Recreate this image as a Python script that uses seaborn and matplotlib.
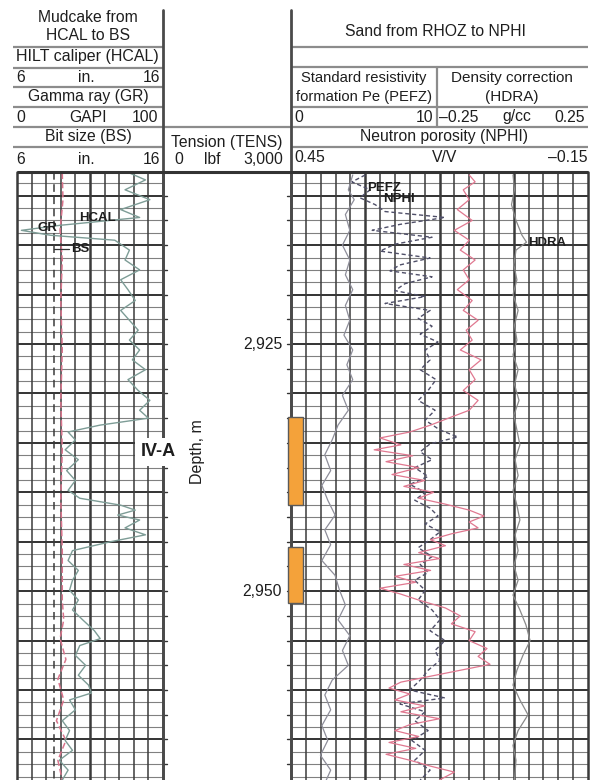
import numpy as np
import matplotlib
matplotlib.use("Agg")
import matplotlib.pyplot as plt
import matplotlib.transforms as mtransforms
from matplotlib.patches import Rectangle
import seaborn as sns

# ---------------- data ----------------
DEPTH_TOP, DEPTH_BOTTOM = 2907.6, 2969.1   # m

# Track 1: gamma ray (GAPI), caliper and bit size (in.)
gr_depth = [2907.7, 2908.4, 2909.4, 2910.4, 2911.4, 2912.2, 2913.0, 2913.5, 2914.0, 2914.5,
            2915.5, 2916.5, 2917.5, 2918.5, 2919.5, 2920.6, 2921.6, 2922.6, 2923.6, 2924.6,
            2925.6, 2926.6, 2927.6, 2928.6, 2929.7, 2930.7, 2931.7, 2932.5, 2933.2, 2933.9,
            2934.7, 2935.7, 2936.7, 2937.8, 2938.8, 2939.8, 2940.6, 2941.3, 2941.8, 2942.3,
            2942.8, 2943.6, 2944.3, 2945.0, 2945.9, 2946.9, 2947.9, 2948.9, 2949.9, 2950.9,
            2951.9, 2952.9, 2954.0, 2954.8, 2955.5, 2956.5, 2957.5, 2958.5, 2959.5, 2960.3,
            2961.0, 2962.0, 2963.1, 2964.1, 2965.1, 2966.1, 2967.1, 2968.1, 2969.1]
gr_api = [77, 88, 74, 91, 71, 84, 29, 3, 23, 67,
          77, 74, 84, 71, 76, 81, 71, 77, 83, 77,
          84, 79, 88, 76, 83, 91, 84, 90, 57, 35,
          40, 33, 42, 34, 40, 35, 43, 71, 81, 69,
          84, 74, 88, 64, 38, 35, 42, 38, 36, 42,
          38, 45, 53, 57, 43, 40, 47, 42, 49, 51,
          36, 40, 31, 36, 33, 38, 29, 35, 31]

hcal_depth = [2907.7, 2910.4, 2913.5, 2916.5, 2920.6, 2925.6, 2930.7, 2935.7, 2940.6, 2945.9,
              2950.9, 2952.9, 2954.8, 2956.9, 2958.9, 2961.0, 2963.1, 2965.1, 2967.1, 2969.1]
hcal_in = [9.1, 9.15, 8.95, 9.1, 9.0, 9.1, 9.0, 9.1, 9.0, 9.1,
           9.1, 9.2, 8.95, 9.35, 8.8, 9.2, 8.7, 9.35, 8.8, 9.1]
bit_size_in = 8.5

# Tracks 2-3: bulk density, Pe, neutron porosity, density correction
rhoz_depth = [2907.9, 2908.6, 2909.4, 2910.4, 2911.4, 2912.5, 2913.5, 2914.5, 2915.5, 2916.5,
              2917.5, 2918.5, 2919.5, 2920.6, 2921.6, 2922.6, 2923.6, 2924.6, 2925.6, 2926.6,
              2927.6, 2928.6, 2929.7, 2930.7, 2931.7, 2932.5, 2933.2, 2933.9, 2934.5, 2935.2,
              2935.7, 2936.3, 2936.9, 2937.5, 2938.2, 2938.8, 2939.4, 2940.0, 2940.6, 2941.2,
              2941.8, 2942.4, 2943.0, 2943.6, 2944.2, 2944.8, 2945.4, 2946.1, 2946.7, 2947.3,
              2947.9, 2948.5, 2949.1, 2949.7, 2950.3, 2950.9, 2951.7, 2952.5, 2953.3, 2954.1,
              2955.0, 2955.8, 2956.6, 2957.4, 2958.0, 2958.6, 2959.2, 2959.8, 2960.4, 2961.0,
              2961.6, 2962.2, 2962.9, 2963.5, 2964.1, 2964.7, 2965.3, 2965.9, 2966.5, 2967.1,
              2967.7, 2968.3, 2969.1]
rhoz_gcc = [2.55, 2.57, 2.53, 2.55, 2.51, 2.56, 2.50, 2.55, 2.52, 2.57,
            2.53, 2.55, 2.51, 2.56, 2.53, 2.58, 2.54, 2.56, 2.52, 2.59,
            2.55, 2.57, 2.53, 2.58, 2.55, 2.48, 2.42, 2.35, 2.25, 2.32,
            2.23, 2.36, 2.27, 2.38, 2.29, 2.40, 2.33, 2.43, 2.38, 2.47,
            2.55, 2.60, 2.55, 2.58, 2.49, 2.42, 2.47, 2.38, 2.45, 2.33,
            2.42, 2.30, 2.37, 2.25, 2.32, 2.38, 2.47, 2.52, 2.49, 2.57,
            2.55, 2.61, 2.58, 2.62, 2.52, 2.42, 2.32, 2.28, 2.35, 2.30,
            2.40, 2.32, 2.45, 2.35, 2.30, 2.38, 2.28, 2.37, 2.27, 2.35,
            2.42, 2.50, 2.45]

pefz_depth = [2907.9, 2909.4, 2910.4, 2911.9, 2913.5, 2915.0, 2916.5, 2918.0, 2919.5, 2921.1,
              2922.6, 2924.1, 2925.6, 2927.1, 2928.6, 2930.2, 2931.7, 2933.2, 2934.7, 2936.2,
              2937.8, 2939.3, 2940.8, 2942.3, 2943.8, 2945.3, 2946.9, 2948.4, 2949.9, 2951.4,
              2952.9, 2954.5, 2956.0, 2957.5, 2959.0, 2960.5, 2962.0, 2963.6, 2965.1, 2966.6,
              2968.1, 2969.1]
pefz = [4.2, 3.9, 4.3, 3.7, 4.0, 3.5, 4.0, 3.7, 4.2, 3.7,
        4.0, 3.6, 4.2, 3.8, 4.2, 3.5, 3.9, 3.2, 2.8, 2.3,
        2.7, 2.1, 2.5, 3.0, 2.3, 2.7, 2.1, 3.0, 3.3, 3.7,
        3.2, 4.0, 3.5, 3.9, 2.8, 2.3, 2.7, 2.1, 2.5, 2.0,
        2.7, 2.4]

nphi_depth = [2907.9, 2908.6, 2909.4, 2910.2, 2910.9, 2911.6, 2912.2, 2912.9, 2913.5, 2914.2,
              2914.9, 2915.6, 2916.3, 2917.0, 2917.6, 2918.2, 2918.9, 2919.6, 2920.2, 2920.9,
              2921.6, 2922.4, 2923.2, 2924.0, 2924.8, 2925.6, 2926.6, 2927.6, 2928.6, 2929.7,
              2930.7, 2931.7, 2932.7, 2933.7, 2934.4, 2935.1, 2935.9, 2936.7, 2937.5, 2938.4,
              2939.2, 2940.0, 2940.8, 2941.6, 2942.4, 2943.2, 2944.0, 2944.8, 2945.6, 2946.5,
              2947.3, 2948.1, 2948.9, 2949.9, 2950.9, 2951.9, 2952.9, 2954.0, 2955.0, 2956.0,
              2957.0, 2958.0, 2959.0, 2960.0, 2960.8, 2961.4, 2962.2, 2963.1, 2964.1, 2965.1,
              2966.1, 2967.1, 2968.1, 2969.1]
nphi = [0.300, 0.327, 0.290, 0.311, 0.280, 0.260, 0.139, 0.230, 0.286, 0.165,
        0.240, 0.270, 0.169, 0.230, 0.250, 0.165, 0.220, 0.240, 0.179, 0.260,
        0.169, 0.193, 0.165, 0.189, 0.153, 0.179, 0.169, 0.189, 0.157, 0.173,
        0.193, 0.159, 0.179, 0.149, 0.113, 0.169, 0.189, 0.165, 0.200, 0.173,
        0.210, 0.179, 0.200, 0.169, 0.153, 0.179, 0.149, 0.169, 0.193, 0.165,
        0.189, 0.173, 0.200, 0.179, 0.193, 0.165, 0.149, 0.169, 0.139, 0.159,
        0.149, 0.173, 0.189, 0.210, 0.139, 0.230, 0.179, 0.200, 0.173, 0.206,
        0.179, 0.200, 0.169, 0.189]

hdra_depth = [2907.9, 2909.4, 2910.9, 2912.5, 2914.0, 2914.7, 2915.5, 2917.0, 2918.5, 2920.0,
              2921.6, 2923.1, 2924.6, 2926.1, 2927.6, 2929.1, 2930.7, 2932.2, 2933.7, 2935.2,
              2936.7, 2938.3, 2939.8, 2941.3, 2942.8, 2944.3, 2945.9, 2947.4, 2948.9, 2950.4,
              2951.9, 2953.4, 2955.0, 2956.5, 2958.0, 2959.5, 2961.0, 2962.5, 2964.1, 2965.6,
              2967.1, 2969.1]
hdra = [0.0, 0.005, -0.005, 0.01, 0.03, 0.045, 0.01, 0.003, 0.013, 0.0,
        0.017, 0.005, 0.013, 0.0, 0.017, 0.005, 0.02, 0.003, 0.013, 0.023,
        0.007, 0.017, 0.0, 0.013, 0.023, 0.007, 0.017, 0.003, 0.017, 0.0,
        0.023, 0.043, 0.057, 0.033, 0.013, 0.0, 0.023, 0.05, 0.017, 0.0,
        0.01, 0.005]

depth_labels = [2925, 2950]
core_intervals = [(2932.4, 2941.3), (2945.5, 2951.2)]
zone_name = "IV-A"
zone_depth = 2935.9

# ---------------- figure ----------------
sns.set_theme(style="white")
plt.rcParams["font.family"] = ["Liberation Sans", "DejaVu Sans"]

W, H = 601, 780
fig = plt.figure(figsize=(W / 100, H / 100), dpi=100)
fig.patch.set_facecolor("white")


def rect(x0, y0, x1, y1):
    return [x0 / W, 1 - y1 / H, (x1 - x0) / W, (y1 - y0) / H]


X1L, X1R = 17, 163
X2L, X2M, X2R = 291, 438, 588
Y_GRID = 172


def track_axes(x0, x1, xlim, z):
    ax = fig.add_axes(rect(x0, Y_GRID, x1, H), zorder=z)
    ax.set_xlim(*xlim)
    ax.set_ylim(DEPTH_BOTTOM, DEPTH_TOP)
    ax.axis("off")
    ax.patch.set_alpha(0)
    return ax


def draw_grid(ax, xs, heavy):
    first = np.ceil(DEPTH_TOP / 1.25) * 1.25
    for d in np.arange(first, DEPTH_BOTTOM, 1.25):
        major = abs(d / 5 - round(d / 5)) < 1e-6
        ax.axhline(d, color="#333333" if major else "#808080",
                   lw=1.4 if major else 0.8, zorder=1)
    for i, x in enumerate(xs):
        ax.axvline(x, color="#3a3a3a", lw=1.8 if i in heavy else 1.1,
                   zorder=1, clip_on=False)


def log_curve(ax, values, depth, color, lw=1.0, ls="-"):
    sns.lineplot(x=values, y=depth, ax=ax, orient="y", sort=False,
                 estimator=None, color=color, lw=lw, linestyle=ls)


# Track 1
g1 = track_axes(X1L, X1R, (6, 16), 1)
draw_grid(g1, np.arange(6, 17), {0, 5, 10})
gr_ax = track_axes(X1L, X1R, (0, 100), 2)
log_curve(g1, [bit_size_in] * 2, [DEPTH_TOP, DEPTH_BOTTOM], "#3a3a3a", 1.1, (0, (5, 3)))
log_curve(g1, hcal_in, hcal_depth, "#d9748c", 1.1, (0, (4, 2)))
log_curve(gr_ax, gr_api, gr_depth, "#7d9c96", 1.0)

# Depth track
dax = track_axes(X1R, X2L, (0, 1), 1)

# Tracks 2-3
g2 = track_axes(X2L, X2R, (0.45, -0.15), 1)
draw_grid(g2, np.linspace(0.45, -0.15, 21), {0, 5, 10, 15, 20})
rhoz_ax = track_axes(X2L, X2R, (1.95, 2.95), 2)
pefz_ax = track_axes(X2L, X2M, (0, 10), 2)
hdra_ax = track_axes(X2M, X2R, (-0.25, 0.25), 2)
log_curve(pefz_ax, pefz, pefz_depth, "#8e8e9a", 0.9)
log_curve(hdra_ax, hdra, hdra_depth, "#8a8a8a", 0.9)
log_curve(rhoz_ax, rhoz_gcc, rhoz_depth, "#e07890", 0.9)
log_curve(g2, nphi, nphi_depth, "#4f4f68", 1.0, (0, (3, 2)))

for ax, lim in [(g1, (6, 16)), (gr_ax, (0, 100)), (dax, (0, 1)), (g2, (0.45, -0.15)),
                (rhoz_ax, (1.95, 2.95)), (pefz_ax, (0, 10)), (hdra_ax, (-0.25, 0.25))]:
    ax.set_xlim(*lim)
    ax.set_ylim(DEPTH_BOTTOM, DEPTH_TOP)
    ax.axis("off")

# ---------------- header, borders and annotations ----------------
top = fig.add_axes([0, 0, 1, 1], zorder=10)
top.set_xlim(0, W)
top.set_ylim(H, 0)
top.axis("off")
top.patch.set_alpha(0)

HC = "#8c8c8c"
TC = "#1e1e1e"
FS = 11.3


def hline(y, x0, x1, lw=1.6, c=HC):
    top.plot([x0, x1], [y, y], color=c, lw=lw, solid_capstyle="butt")


def txt(x, y, s, ha="center", size=FS, **kw):
    top.text(x, y, s, ha=ha, va="center", fontsize=size, color=TC, **kw)


# left header
for y in (47, 68, 87, 107, 147):
    hline(y, 13, X1R)
hline(127, 13, X2L)
txt(88, 17, "Mudcake from")
txt(88, 36, "HCAL to BS")
txt(87, 57, "HILT caliper (HCAL)", size=11.5)
txt(16, 77, "6", ha="left"); txt(86, 77, "in."); txt(160, 77, "16", ha="right")
txt(88, 97, "Gamma ray (GR)")
txt(16, 117, "0", ha="left"); txt(88, 117, "GAPI"); txt(158, 117, "100", ha="right")
txt(88, 137, "Bit size (BS)")
txt(16, 160, "6", ha="left"); txt(86, 160, "in."); txt(160, 160, "16", ha="right")
txt(227, 142, "Tension (TENS)")
txt(174, 160, "0", ha="left"); txt(212, 160, "lbf"); txt(283, 160, "3,000", ha="right")

# right header
for y in (47, 67, 107, 127, 147):
    hline(y, X2L, X2R)
top.plot([437, 437], [67, 127], color=HC, lw=1.6)
txt(435, 32, "Sand from RHOZ to NPHI")
txt(364, 78, "Standard resistivity", size=10.6)
txt(364, 97, "formation Pe (PEFZ)", size=10.6)
txt(512, 78, "Density correction", size=11.0)
txt(512, 97, "(HDRA)", size=11.0)
txt(294, 117, "0", ha="left"); txt(433, 117, "10", ha="right")
txt(439, 117, "\u20130.25", ha="left"); txt(517, 117, "g/cc"); txt(585, 117, "0.25", ha="right")
txt(444, 137, "Neutron porosity (NPHI)")
txt(294, 158, "0.45", ha="left"); txt(445, 158, "V/V"); txt(587, 158, "\u20130.15", ha="right")

# track separators and grid top
top.plot([X1R, X1R], [10, H], color="#4a4a4a", lw=2.0)
top.plot([X2L, X2L], [10, H], color="#4a4a4a", lw=2.0)
hline(Y_GRID, X1L, X2R, lw=2.2, c="#333333")

# depth ticks and labels
dtr = mtransforms.blended_transform_factory(dax.transAxes, dax.transData)
tick_len = 4 / (X2L - X1R)
for d in np.arange(np.ceil(DEPTH_TOP / 2.5) * 2.5, DEPTH_BOTTOM, 2.5):
    dax.plot([0, tick_len], [d, d], color="#333333", lw=1.0, transform=dtr, clip_on=False)
    dax.plot([1 - tick_len, 1], [d, d], color="#333333", lw=1.0, transform=dtr, clip_on=False)
for d in depth_labels:
    dax.text(0.93, d, f"{d:,}", transform=dtr, ha="right", va="center",
             fontsize=11.3, color=TC)
dax.text(0.27, zone_depth, "Depth, m", transform=dtr, rotation=90, ha="center",
         va="center", fontsize=11.5, color=TC)

# cored intervals
ctr = mtransforms.blended_transform_factory(top.transData, g2.transData)
for d0, d1 in core_intervals:
    top.add_patch(Rectangle((288, d0), 15, d1 - d0, transform=ctr, facecolor="#f4a23a",
                            edgecolor="#5a5a5a", lw=1.0, zorder=5, clip_on=False))

# zone label
t1tr = mtransforms.blended_transform_factory(g1.transAxes, g1.transData)
top.text(0.966, zone_depth, zone_name, transform=t1tr, ha="center", va="center",
         fontsize=13, fontweight="bold", color=TC,
         bbox=dict(facecolor="white", edgecolor="none", pad=4))

# curve labels
lab = dict(fontsize=9.5, fontweight="bold", color=TC, ha="center", va="center")
top.text((97 - X1L) / (X1R - X1L), 2912.25, "HCAL", transform=t1tr, **lab)
top.text((47 - X1L) / (X1R - X1L), 2913.25, "GR", transform=t1tr, **lab)
top.text((80 - X1L) / (X1R - X1L), 2915.4, "BS", transform=t1tr, **lab)
g1.plot([bit_size_in, 9.55], [2915.4, 2915.4], color="#333333", lw=0.9)
t2tr = mtransforms.blended_transform_factory(g2.transAxes, g2.transData)
top.text((384 - X2L) / (X2R - X2L), 2909.2, "PEFZ", transform=t2tr, **lab)
top.text((399 - X2L) / (X2R - X2L), 2910.3, "NPHI", transform=t2tr, **lab)
top.text((547 - X2L) / (X2R - X2L), 2914.8, "HDRA", transform=t2tr, **lab)

fig.savefig("out.png", dpi=100)
